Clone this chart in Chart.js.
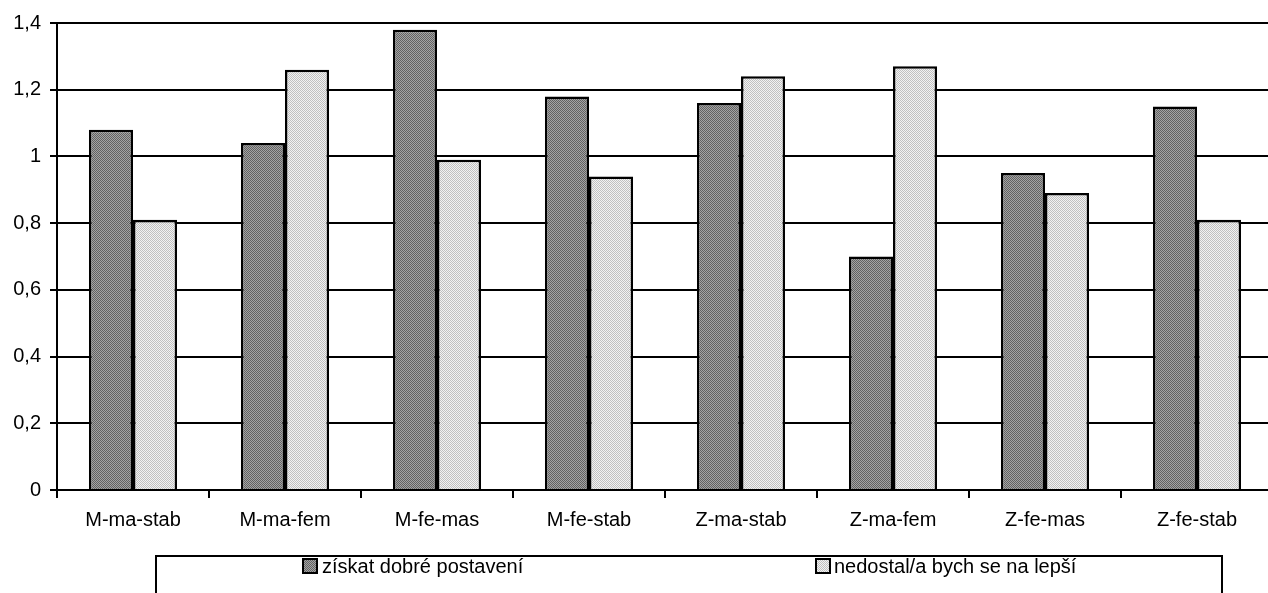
<!DOCTYPE html>
<html>
<head>
<meta charset="utf-8">
<script src="https://cdn.jsdelivr.net/npm/chart.js@4"></script>
<style>
html,body{margin:0;padding:0;background:#fff;overflow:hidden;width:1268px;height:593px;}
canvas{display:block;}
</style>
</head>
<body>
<canvas id="c" width="1273" height="593"></canvas>
<script>
const categories = ['M-ma-stab','M-ma-fem','M-fe-mas','M-fe-stab','Z-ma-stab','Z-ma-fem','Z-fe-mas','Z-fe-stab'];
const seriesNames = ['získat dobré postavení','nedostal/a bych se na lepší'];
const seriesDark = [1.08,1.04,1.38,1.18,1.16,0.70,0.95,1.15];
const seriesLight = [0.81,1.26,0.99,0.94,1.24,1.27,0.89,0.81];
const yTickLabels = ['0','0,2','0,4','0,6','0,8','1','1,2','1,4'];

const canvas = document.getElementById('c');
const ctx = canvas.getContext('2d');
function makePattern(c1, c2){
  const p = document.createElement('canvas');
  p.width = 2; p.height = 2;
  const x = p.getContext('2d');
  x.fillStyle = c1; x.fillRect(0,0,2,2);
  x.fillStyle = c2; x.fillRect(0,0,1,1); x.fillRect(1,1,1,1);
  return ctx.createPattern(p, 'repeat');
}
const darkFill = makePattern('#a4a4a4', '#626262');
const lightFill = makePattern('#f2f2f2', '#c0c0c0');
const FONT = 'Liberation Sans, Arial, sans-serif';

const legendBox = {
  id: 'legendBox',
  afterDraw(chart){
    const c = chart.ctx;
    c.save();
    c.strokeStyle = '#000';
    c.lineWidth = 2;
    c.strokeRect(156, 556, 1066, 60);
    const items = [{x:303, tx:322}, {x:816, tx:834}];
    chart.data.datasets.forEach((ds, i) => {
      const it = items[i];
      c.fillStyle = ds.backgroundColor;
      c.fillRect(it.x, 559, 14, 14);
      c.lineWidth = 2;
      c.strokeStyle = '#000';
      c.strokeRect(it.x, 559, 14, 14);
      c.fillStyle = '#000';
      c.font = '20px ' + FONT;
      c.textBaseline = 'middle';
      c.textAlign = 'left';
      c.fillText(ds.label, it.tx, 567);
    });
    c.restore();
  }
};

new Chart(ctx, {
  type: 'bar',
  data: {
    labels: categories,
    datasets: [
      {label: seriesNames[0], data: seriesDark, backgroundColor: darkFill, borderColor: '#000', borderWidth: 2.5},
      {label: seriesNames[1], data: seriesLight, backgroundColor: lightFill, borderColor: '#000', borderWidth: 2.5}
    ]
  },
  options: {
    responsive: false,
    animation: false,
    categoryPercentage: 0.58,
    barPercentage: 1,
    layout: {padding: {top: 23, left: 0, right: 0, bottom: 58}},
    plugins: {legend: {display: false}, tooltip: {enabled: false}},
    scales: {
      x: {
        grid: {offset: true, drawOnChartArea: false, color: '#000', lineWidth: 2, tickLength: 8},
        border: {color: '#000', width: 2},
        ticks: {color: '#000', font: {size: 20, family: FONT}, padding: 10, maxRotation: 0},
        afterFit(s){ s.height = 45; }
      },
      y: {
        min: 0, max: 1.4,
        ticks: {stepSize: 0.2, color: '#000', font: {size: 20, family: FONT}, padding: 9,
          callback: (v, i) => yTickLabels[i]},
        grid: {color: '#000', lineWidth: 2, tickLength: 7},
        border: {color: '#000', width: 2},
        afterFit(s){ s.width = 57; }
      }
    }
  },
  plugins: [legendBox]
});
</script>
</body>
</html>
